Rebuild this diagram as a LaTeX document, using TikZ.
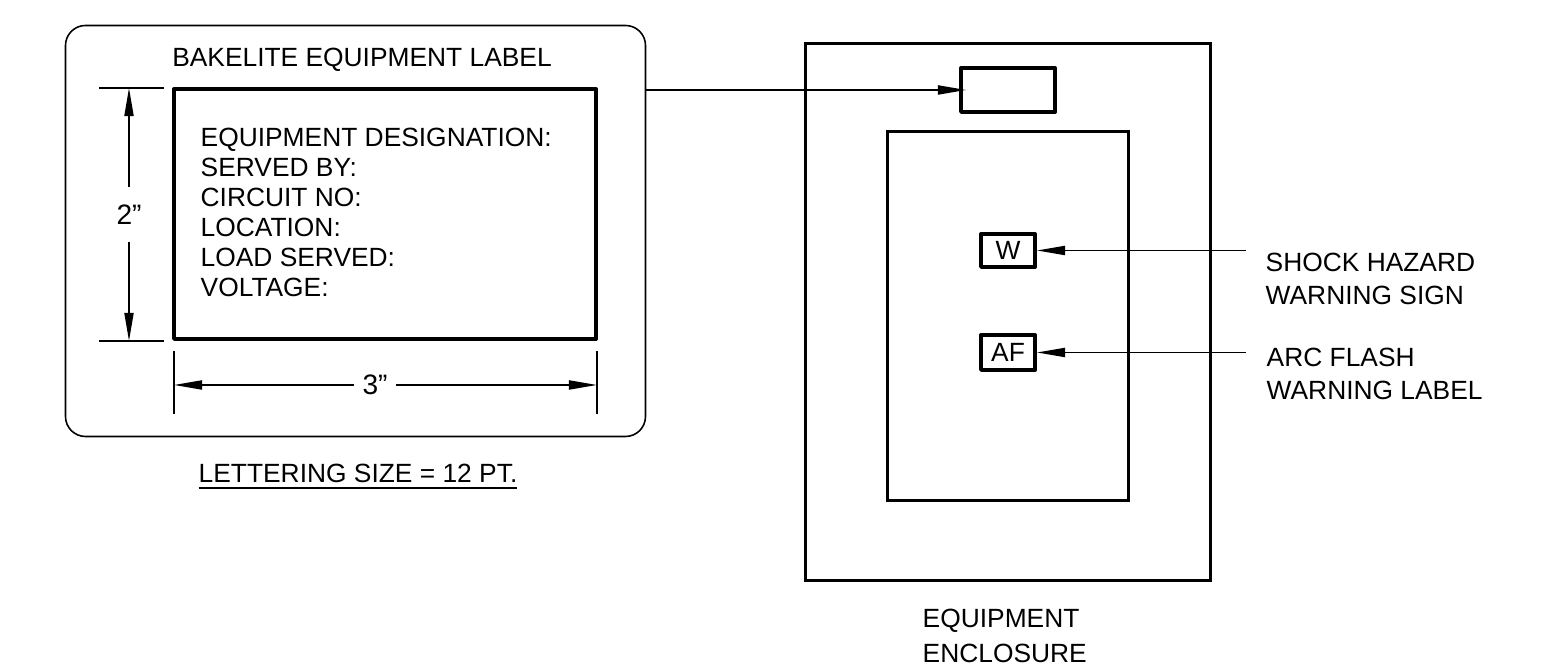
\documentclass[tikz,border=0pt]{standalone}
\usepackage{fontspec}
\setmainfont{Liberation Sans}
\usetikzlibrary{arrows.meta}

\tikzset{
    txt/.style={font=\fontsize{7.5}{9}\selectfont, inner sep=0pt, align=left},
    thinbox/.style={draw, line width=0.45pt, inner sep=0pt},
    heavybox/.style={draw, line width=1.1pt, inner sep=0pt, line join=round},
    dimline/.style={line width=0.45pt},
    ptr/.style={line width=0.45pt, -{Triangle[length=8pt, width=2.6pt]}},
}

\begin{document}
\begin{tikzpicture}
    \useasboundingbox (0,0) rectangle (15.57,6.71);

    \def\xe{10.08};
    \def\dimx{1.29};
    \def\dimy{2.86};
    \def\ytop{5.83};
    \def\ybot{3.30};

% bakelite label
    \node[thinbox, rounded corners=0.2cm, minimum width=5.80cm, minimum height=4.11cm] (plate) at (3.555,4.40) {};
    \node[heavybox, minimum width=4.22cm, minimum height=2.50cm] (face) at (3.85,4.57) {};
    \node[txt, anchor=base] (title) at (3.62,6.04) {BAKELITE EQUIPMENT LABEL};
    \node[txt, anchor=north west, font=\fontsize{7.5}{8.54}\selectfont] (fields) at (2.00,5.44)
        {EQUIPMENT DESIGNATION:\\SERVED BY:\\CIRCUIT NO:\\LOCATION:\\LOAD SERVED:\\VOLTAGE:};

% dimension 2"
    \draw[dimline] (0.99,\ytop) -- (1.64,\ytop);
    \draw[dimline] (0.99,\ybot) -- (1.64,\ybot);
    \coordinate (dtop) at (\dimx,\ytop);
    \coordinate (dbot) at (\dimx,\ybot);
    \node[txt, inner ysep=0.17cm, font=\fontsize{8}{9}\selectfont] (two) at (\dimx,4.56) {2”};
    \draw[ptr] (two) -- (dtop);
    \draw[ptr] (two) -- (dbot);

% dimension 3"
    \draw[dimline] (1.74,3.20) -- (1.74,2.57);
    \draw[dimline] (5.97,3.20) -- (5.97,2.57);
    \coordinate (dleft) at (1.74,\dimy);
    \coordinate (dright) at (5.97,\dimy);
    \node[txt, inner xsep=0.08cm, font=\fontsize{8}{9}\selectfont] (three) at (3.75,\dimy) {3”};
    \draw[ptr] (three) -- (dleft);
    \draw[ptr] (three) -- (dright);

    \node[txt, anchor=base] (size) at (3.58,1.88) {\underline{LETTERING SIZE = 12 PT.}};

% enclosure
    \node[draw, line width=0.85pt, minimum width=4.05cm, minimum height=5.37cm] (encl) at (\xe,3.585) {};
    \node[draw, line width=0.85pt, minimum width=2.41cm, minimum height=3.69cm] (door) at (\xe,3.55) {};
    \node[heavybox, minimum width=0.94cm, minimum height=0.44cm] (tag) at (\xe,5.81) {};
    \node[heavybox, txt, minimum width=0.54cm, minimum height=0.33cm] (wsign) at (\xe,4.205) {W};
    \node[heavybox, txt, minimum width=0.54cm, minimum height=0.35cm] (afsign) at (\xe,3.185) {AF};

    \node[txt, anchor=north west, font=\fontsize{7.5}{10}\selectfont] (encltxt) at (9.22,0.63) {EQUIPMENT\\ENCLOSURE};

% pointers
    \draw[ptr, shorten >=-0.07cm] (plate.east |- tag.west) -- (tag.west);

    \path (wsign.east) ++(2.09,0) coordinate (wfrom);
    \path (afsign.east) ++(2.09,0) coordinate (afrom);
    \draw[ptr] (wfrom) -- (wsign.east);
    \draw[ptr] (afrom) -- (afsign.east);

    \node[txt, anchor=north west, font=\fontsize{7.5}{9.4}\selectfont] (shock) at (12.65,4.19) {SHOCK HAZARD\\WARNING SIGN};
    \node[txt, anchor=north west, font=\fontsize{7.5}{9.4}\selectfont] (arc) at (12.66,3.24) {ARC FLASH\\WARNING LABEL};

\end{tikzpicture}
\end{document}
